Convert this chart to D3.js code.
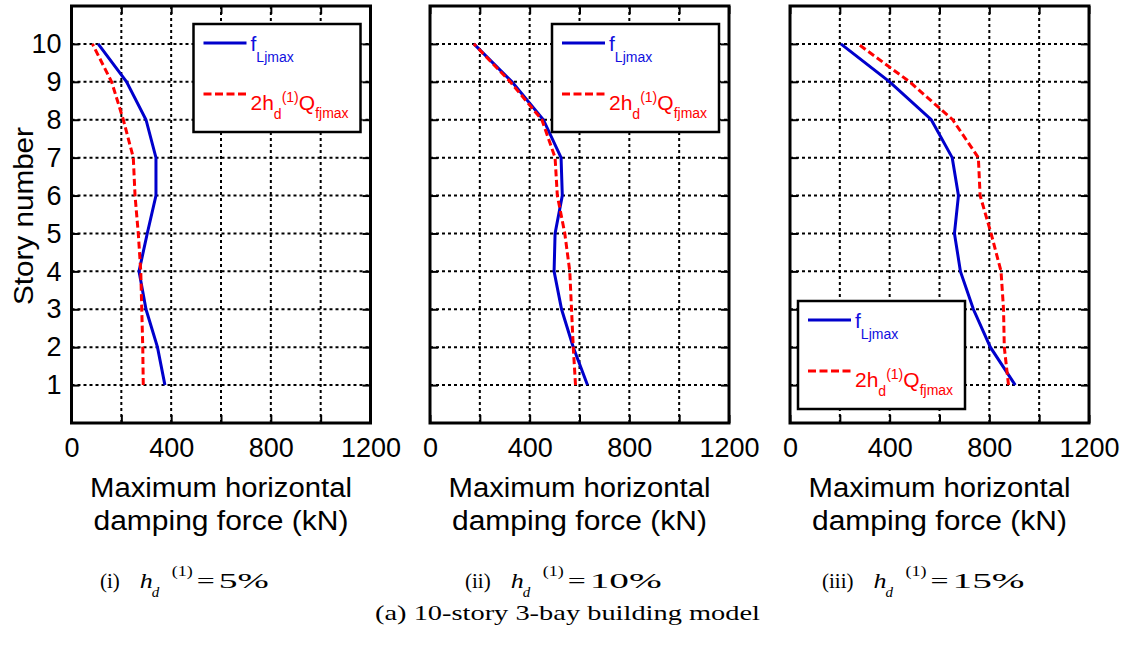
<!DOCTYPE html>
<html>
<head>
<meta charset="utf-8">
<script src="https://cdn.jsdelivr.net/npm/d3@7/dist/d3.min.js"></script>
<style>
body { margin: 0; background: #fff; }
svg { display: block; font-family: "Liberation Sans", Arial, sans-serif; }
.serif { font-family: "Liberation Serif", "Times New Roman", Times, "DejaVu Serif", serif; }
</style>
</head>
<body>
<svg width="1132" height="646"></svg>
<script>
// story levels and axis ticks
const stories = [1, 2, 3, 4, 5, 6, 7, 8, 9, 10];
const xTicks = [0, 200, 400, 600, 800, 1000, 1200];
const xLabels = [0, 400, 800, 1200];

// f_Ljmax (blue) and 2 h_d Q_fjmax (red), story 1 -> 10, in kN
const fL_5 = [375, 345, 299, 271, 304, 339, 339, 299, 221, 107];
const q_5 = [288, 286, 282, 278, 268, 255, 248, 208, 161, 84];
const fL_10 = [632, 575, 528, 498, 502, 531, 526, 455, 329, 176];
const q_10 = [584, 575, 568, 561, 541, 511, 502, 449, 322, 176];
const fL_15 = [904, 804, 736, 684, 660, 676, 651, 567, 400, 204];
const q_15 = [877, 860, 857, 847, 807, 763, 756, 653, 480, 273];

const captionTags = ['(i)', '(ii)', '(iii)'];
const ratioLabels = ['5%', '10%', '15%'];

const blueSeries = [fL_5, fL_10, fL_15];
const redSeries = [q_5, q_10, q_15];

// layout
const panelLeft = [71.5, 430, 790];
const panelW = 299;
const legendPos = ['top', 'top', 'bottom'];
const captionStart = [100, 465, 822];
const blue = '#0000cc';
const red = '#ff0000';

const svg = d3.select('svg');

const y = d3.scaleLinear().domain([0, 11]).range([423, 6]);

blueSeries.forEach((fL, i) => {
    const left = panelLeft[i];
    const x = d3.scaleLinear().domain([0, 1200]).range([left, left + panelW]);
    const g = svg.append('g');

    // dotted grid
    g.selectAll('.vgrid')
        .data(xTicks.slice(1, -1))
        .enter()
        .append('line')
            .attr('x1', d => x(d)).attr('x2', d => x(d))
            .attr('y1', y(0)).attr('y2', y(11))
            .attr('stroke', '#000')
            .attr('stroke-width', 2)
            .attr('stroke-dasharray', '3,3');
    g.selectAll('.hgrid')
        .data(stories)
        .enter()
        .append('line')
            .attr('x1', x(0)).attr('x2', x(1200))
            .attr('y1', d => y(d)).attr('y2', d => y(d))
            .attr('stroke', '#000')
            .attr('stroke-width', 2)
            .attr('stroke-dasharray', '3,3');

    const line = d3.line()
        .x(d => x(d[0]))
        .y(d => y(d[1]));

    g.append('path')
        .datum(fL.map((v, k) => [v, stories[k]]))
        .attr('d', line)
        .attr('fill', 'none')
        .attr('stroke', blue)
        .attr('stroke-width', 3);
    g.append('path')
        .datum(redSeries[i].map((v, k) => [v, stories[k]]))
        .attr('d', line)
        .attr('fill', 'none')
        .attr('stroke', red)
        .attr('stroke-width', 3)
        .attr('stroke-dasharray', '7,3.5');

    // axes with inward ticks
    g.append('g')
        .attr('transform', `translate(0,${y(0)})`)
        .call(d3.axisBottom(x).tickValues(xTicks).tickSize(-8).tickPadding(15)
            .tickFormat(d => xLabels.includes(d) ? d : ''));
    g.append('g')
        .attr('transform', `translate(0,${y(11)})`)
        .call(d3.axisTop(x).tickValues(xTicks).tickSize(-8).tickFormat(''));
    g.append('g')
        .attr('transform', `translate(${x(0)},0)`)
        .call(d3.axisLeft(y).tickValues(stories).tickSize(-8).tickPadding(10)
            .tickFormat(d => i === 0 ? d : ''));
    g.append('g')
        .attr('transform', `translate(${x(1200)},0)`)
        .call(d3.axisRight(y).tickValues(stories).tickSize(-8).tickFormat(''));

    g.selectAll('.domain').remove();
    g.selectAll('.tick line').attr('stroke', '#000').attr('stroke-width', 2);
    g.selectAll('.tick text')
        .attr('font-family', '"Liberation Sans", Arial, sans-serif')
        .attr('font-size', 27)
        .attr('fill', '#000');

    // frame
    g.append('rect')
        .attr('x', x(0)).attr('y', y(11))
        .attr('width', x(1200) - x(0))
        .attr('height', y(0) - y(11))
        .attr('fill', 'none')
        .attr('stroke', '#000')
        .attr('stroke-width', 3);

    // legend
    const lw = 167, lh = 108;
    const lx = legendPos[i] === 'top' ? x(1200) - 10 - lw : x(0) + 8;
    const ly = legendPos[i] === 'top' ? y(11) + 18 : y(0) - 14 - lh;
    const leg = g.append('g').attr('transform', `translate(${lx},${ly})`);
    leg.append('rect')
        .attr('width', lw).attr('height', lh)
        .attr('fill', '#fff')
        .attr('stroke', '#000')
        .attr('stroke-width', 2.5);
    leg.append('line')
        .attr('x1', 10).attr('x2', 53).attr('y1', 19).attr('y2', 19)
        .attr('stroke', blue).attr('stroke-width', 3);
    leg.append('line')
        .attr('x1', 10).attr('x2', 53).attr('y1', 70).attr('y2', 70)
        .attr('stroke', red).attr('stroke-width', 3)
        .attr('stroke-dasharray', '8,3.5');
    const t1 = leg.append('text').attr('x', 57).attr('y', 27).attr('fill', '#1010e0').attr('font-size', 21);
    t1.append('tspan').text('f');
    t1.append('tspan').attr('font-size', 14).attr('dy', 11).text('Ljmax');
    const t2 = leg.append('text').attr('x', 57).attr('y', 86).attr('fill', red).attr('font-size', 21);
    t2.append('tspan').text('2h');
    t2.append('tspan').attr('font-size', 14).attr('dy', 9).text('d');
    t2.append('tspan').attr('font-size', 14).attr('dy', -17).text('(1)');
    t2.append('tspan').attr('dy', 8).text('Q');
    t2.append('tspan').attr('font-size', 14).attr('dy', 8).text('fjmax');

    // x axis title
    const cx = (x(0) + x(1200)) / 2;
    g.append('text')
        .attr('x', cx).attr('y', 497)
        .attr('text-anchor', 'middle')
        .attr('font-size', 27)
        .attr('textLength', 262).attr('lengthAdjust', 'spacingAndGlyphs')
        .text('Maximum horizontal');
    g.append('text')
        .attr('x', cx).attr('y', 530)
        .attr('text-anchor', 'middle')
        .attr('font-size', 27)
        .attr('textLength', 255).attr('lengthAdjust', 'spacingAndGlyphs')
        .text('damping force (kN)');

    // sub caption (i) h_d^(1) = 5%
    const cap = g.append('g')
        .attr('class', 'serif')
        .attr('fill', '#000');
    const base = 588;
    const tag = cap.append('text')
        .attr('x', captionStart[i]).attr('y', base)
        .attr('font-size', 21)
        .text(captionTags[i]);
    const hx = captionStart[i] + tag.node().getComputedTextLength() + 20;
    cap.append('text').attr('x', hx).attr('y', base).attr('font-size', 22)
        .attr('font-style', 'italic')
        .attr('textLength', 13).attr('lengthAdjust', 'spacingAndGlyphs').text('h');
    cap.append('text').attr('x', hx + 12).attr('y', base + 9).attr('font-size', 15)
        .attr('font-style', 'italic').text('d');
    cap.append('text').attr('x', hx + 32).attr('y', base - 12).attr('font-size', 15)
        .attr('textLength', 21).attr('lengthAdjust', 'spacingAndGlyphs').text('(1)');
    cap.append('text').attr('x', hx + 57).attr('y', base).attr('font-size', 22)
        .attr('textLength', 18).attr('lengthAdjust', 'spacingAndGlyphs').text('=');
    cap.append('text').attr('x', hx + 79).attr('y', base).attr('font-size', 22)
        .attr('textLength', 22 * ratioLabels[i].length + 6)
        .attr('lengthAdjust', 'spacingAndGlyphs')
        .text(ratioLabels[i]);
});

// y axis title
svg.append('text')
    .attr('transform', 'translate(24,216) rotate(-90)')
    .attr('text-anchor', 'middle')
    .attr('dominant-baseline', 'central')
    .attr('font-size', 27)
    .attr('textLength', 178).attr('lengthAdjust', 'spacingAndGlyphs')
    .text('Story number');

// figure caption
svg.append('text')
    .attr('class', 'serif')
    .attr('x', 375).attr('y', 620)
    .attr('font-size', 22)
    .attr('textLength', 385).attr('lengthAdjust', 'spacingAndGlyphs')
    .text('(a) 10-story 3-bay building model');
</script>
</body>
</html>
